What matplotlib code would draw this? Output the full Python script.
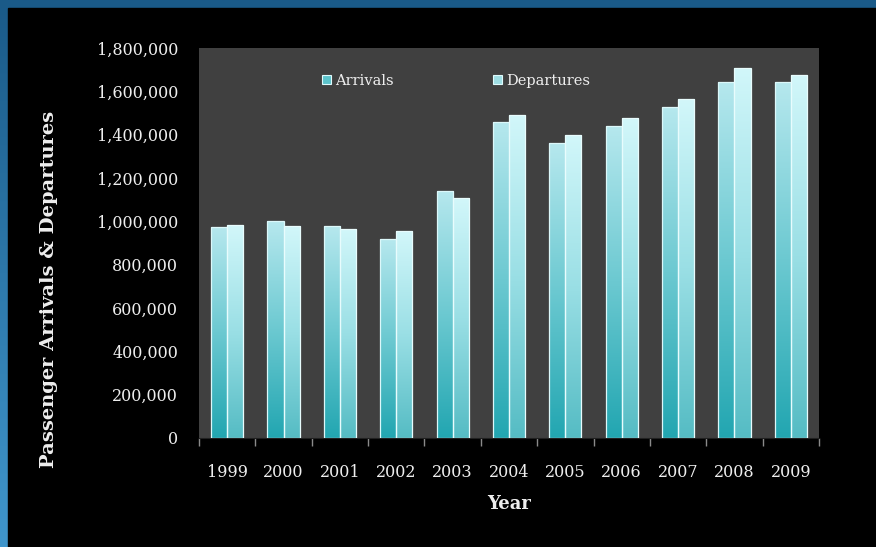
import numpy as np
import matplotlib.pyplot as plt
from matplotlib.colors import LinearSegmentedColormap
from matplotlib.patches import Rectangle
from matplotlib.ticker import FuncFormatter

# data
years = ["1999", "2000", "2001", "2002", "2003", "2004",
         "2005", "2006", "2007", "2008", "2009"]
arrivals = [974000, 1001000, 977000, 917000, 1141000, 1460000,
            1360000, 1441000, 1529000, 1645000, 1645000]
departures = [983000, 977000, 965000, 954000, 1106000, 1489000,
              1398000, 1475000, 1563000, 1708000, 1674000]

plt.rcParams['font.family'] = ['DejaVu Serif']
txt = '#eeeeee'

fig = plt.figure(figsize=(8.76, 5.47), dpi=100)

# blue frame (top + left) behind a black slide
bg = fig.add_axes([0, 0, 1, 1])
bg.axis('off')
grad = np.linspace(0, 1, 256).reshape(-1, 1)
blue = LinearSegmentedColormap.from_list('blue', ['#1a5a88', '#4096cc'])
bg.imshow(grad, cmap=blue, aspect='auto', extent=(0, 1, 0, 1))
bg.add_patch(Rectangle((8 / 876, 0), 1, 1 - 8 / 547, color='black'))
bg.set_xlim(0, 1)
bg.set_ylim(0, 1)

ax = fig.add_axes([199 / 876, 109 / 547, 620 / 876, 390 / 547])
ax.set_facecolor('#404040')

x = np.arange(len(years))
w = 0.285
cmap_a = LinearSegmentedColormap.from_list('arr', ['#22a6b1', '#6cc9d1', '#b6e8ee'])
cmap_d = LinearSegmentedColormap.from_list('dep', ['#55bcc4', '#9adfe5', '#d2f7fa'])

bars_a = ax.bar(x - w / 2, arrivals, w, facecolor='none', edgecolor='#dcf8fa', lw=0.9, zorder=3)
bars_d = ax.bar(x + w / 2, departures, w, facecolor='none', edgecolor='#e8fcfd', lw=0.9, zorder=3)

# vertical gradient inside every bar
for bars, cm in [(bars_a, cmap_a), (bars_d, cmap_d)]:
    for b in bars:
        x0, y0 = b.get_x(), b.get_y()
        im = ax.imshow(grad[::-1], cmap=cm, aspect='auto', zorder=2,
                       extent=(x0, x0 + b.get_width(), y0, y0 + b.get_height()))
        im.set_clip_path(b)

ax.set_xlim(-0.5, len(years) - 0.5)
ax.set_ylim(0, 1800000)
ax.set_yticks(np.arange(0, 1800001, 200000))
ax.yaxis.set_major_formatter(FuncFormatter(lambda v, p: f"{int(v):,}"))
ax.set_xticks(x)
ax.set_xticklabels(years)
ax.set_xticks(np.arange(-0.5, len(years), 1), minor=True)

ax.tick_params(axis='y', length=0, pad=15, labelsize=11.5, colors=txt)
ax.tick_params(axis='x', which='major', length=0, pad=19, labelsize=11.5, colors=txt)
ax.tick_params(axis='x', which='minor', length=6, width=1, color='#8a8a8a')

for s in ['top', 'right', 'left']:
    ax.spines[s].set_visible(False)
ax.spines['bottom'].set_color('#202020')

ax.set_xlabel('Year', fontsize=13, fontweight='bold', color=txt, labelpad=10)
ax.set_ylabel('Passenger Arrivals & Departures', fontsize=14, fontweight='bold', color=txt)
ax.yaxis.set_label_coords(-0.228, 0.38)

handles = [Rectangle((0, 0), 1, 1, facecolor='#5cc4cc', edgecolor='#e0fafc', lw=0.8),
           Rectangle((0, 0), 1, 1, facecolor='#9edee4', edgecolor='#e0fafc', lw=0.8)]
leg = ax.legend(handles, ['Arrivals', 'Departures'], ncol=2, frameon=False,
                loc='upper left', bbox_to_anchor=(0.177, 0.968),
                handlelength=0.6, handleheight=0.6, handletextpad=0.3,
                columnspacing=6.8, fontsize=10.5)
for t in leg.get_texts():
    t.set_color(txt)

fig.savefig('out.png', dpi=100, facecolor='black')
